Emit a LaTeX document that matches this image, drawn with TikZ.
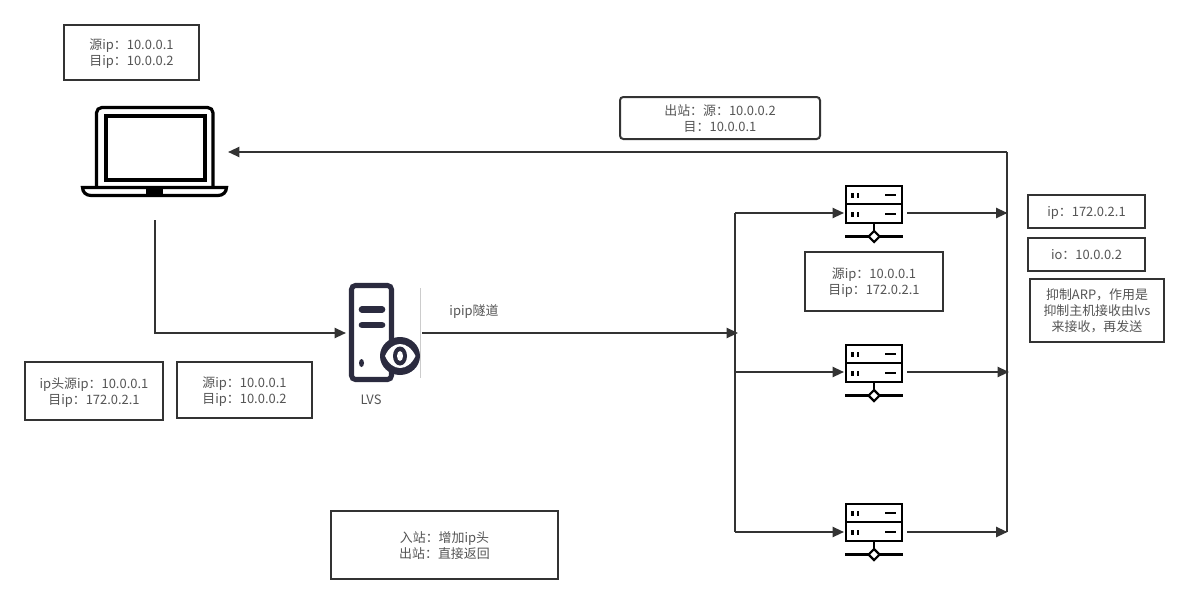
\documentclass[tikz,border=0pt]{standalone}
\usepackage{fontspec}
\setmainfont{Noto Sans CJK SC}
\usetikzlibrary{arrows.meta}
\definecolor{linec}{HTML}{333333}
\definecolor{textc}{HTML}{555555}
\definecolor{lvsc}{HTML}{2B2B3F}
\tikzset{
  x=0.75pt,y=-0.75pt,
  lab/.style={font=\fontsize{9.7pt}{12pt}\selectfont,text=textc,align=center},
  box/.style={draw=linec,line width=1.5pt,fill=white,inner sep=0pt,lab,text depth=0pt},
  conn/.style={draw=linec,line width=1.5pt},
  arr/.style={conn,-{Triangle[length=8.5pt,width=7.5pt]}},
  serverpic/.pic={
    \draw[black,line width=1.8pt,fill=white] (-28,-27) rectangle (28,10);
    \draw[black,line width=1.8pt] (-28,-9) -- (28,-9);
    \foreach \yy in {-18,1}{
      \fill[black] (-23,\yy-2.5) rectangle (-20.5,\yy+2.5);
      \fill[black] (-17.5,\yy-2.5) rectangle (-15,\yy+2.5);
      \fill[black] (11,\yy-1.2) rectangle (22,\yy+1.2);
    }
    \draw[black,line width=1.8pt] (0,10) -- (0,18);
    \draw[black,line width=1.8pt] (-29,23.5) -- (29,23.5);
    \draw[black,line width=1.6pt,fill=white] (0,18) -- (5.5,23.5) -- (0,29) -- (-5.5,23.5) -- cycle;
  }
}
\begin{document}
\begin{tikzpicture}
\useasboundingbox (0,0) rectangle (1188,603);
\fill[white] (0,0) rectangle (1188,603);

% anchors for connectors
\node[minimum width=109.5pt,minimum height=102pt,inner sep=0pt,outer sep=0pt] (laptop) at (155,152) {};
\node[minimum width=57pt,minimum height=74pt,inner sep=0pt,outer sep=0pt] (lvs) at (384,333) {};
\node[minimum width=47.25pt,minimum height=30pt,inner sep=0pt,outer sep=0pt] (s1) at (875.5,213) {};
\node[minimum width=47.25pt,minimum height=30pt,inner sep=0pt,outer sep=0pt] (s2) at (875.5,372) {};
\node[minimum width=47.25pt,minimum height=30pt,inner sep=0pt,outer sep=0pt] (s3) at (875.5,532) {};
\coordinate (inbusT) at (735,213);
\coordinate (inbusM) at (738,333);
\coordinate (inbus2) at (735,372);
\coordinate (inbusB) at (735,532);
\coordinate (outT) at (1006.5,152);
\coordinate (out1) at (1007.5,213);
\coordinate (out2) at (1009,372);
\coordinate (out3) at (1007.5,532);
\coordinate (outB) at (1006.5,532);

% laptop
\begin{scope}[black]
\draw[line width=2.4pt,rounded corners=4pt] (96.5,188) -- (96.5,107.5) -- (213,107.5) -- (213,188);
\draw[line width=3pt] (106,116) rectangle (204.5,179.5);
\draw[line width=2.4pt,fill=white] (82.5,187.5) -- (226.5,187.5) .. controls (226.5,192) and (223,195.5) .. (218,195.5) -- (91,195.5) .. controls (86,195.5) and (82.5,192) .. (82.5,187.5) -- cycle;
\fill (146,187) rectangle (163,196);
\end{scope}

% LVS
\draw[gray!40,line width=0.6pt] (420.5,288) -- (420.5,378);
\draw[lvsc,line width=3.8pt,rounded corners=3pt,fill=white] (351.5,285.5) rectangle (391.5,379.5);
\draw[lvsc,line width=5pt,line cap=round] (362,309.5) -- (382,309.5);
\draw[lvsc,line width=5pt,line cap=round] (362,325) -- (382,325);
\fill[lvsc] (361.5,363) ellipse (2.5 and 4);
\fill[lvsc] (400,356) ellipse (20 and 19);
\fill[white] (385,356) .. controls (392,340) and (408,340) .. (415.5,356) .. controls (408,372) and (392,372) .. (385,356) -- cycle;
\fill[lvsc] (400,356) ellipse (7 and 9.5);
\fill[white] (400,356) ellipse (3 and 5);

% servers
\pic at (874,213) {serverpic};
\pic at (874,372) {serverpic};
\pic at (874,531) {serverpic};

% connectors
\draw[arr] (laptop.south) |- (lvs.west);
\draw[arr] (lvs.east) -- (inbusM);
\draw[conn] (inbusT) -- (inbusB);
\draw[arr] (inbusT) -- (s1.west);
\draw[arr] (inbus2) -- (s2.west);
\draw[arr] (inbusB) -- (s3.west);
\draw[arr] (s1.east) -- (out1);
\draw[arr] (s2.east) -- (out2);
\draw[arr] (s3.east) -- (out3);
\draw[conn] (outB) -- (outT);
\draw[arr] (outT) -- (laptop.east);

% boxes
\node[box,minimum width=101.25pt,minimum height=41.25pt] (b1) at (131.5,52.5) {源ip：10.0.0.1\\目ip：10.0.0.2};
\node[box,rounded corners=2.5pt,minimum width=150pt,minimum height=31.5pt] (b2) at (720,118) {出站：源：10.0.0.2\\目：10.0.0.1};
\node[box,minimum width=87.75pt,minimum height=24.75pt] (b3) at (1086.5,211.5) {ip：172.0.2.1};
\node[box,minimum width=87.75pt,minimum height=24.75pt] (b4) at (1086.5,254.5) {io：10.0.0.2};
\node[box,minimum width=100.5pt,minimum height=47.25pt] (b5) at (1097,310.5) {抑制ARP，作用是\\抑制主机接收由lvs\\来接收，再发送};
\node[box,minimum width=103.5pt,minimum height=44.25pt] (b6) at (874,281.5) {源ip：10.0.0.1\\目ip：172.0.2.1};
\node[box,minimum width=103.5pt,minimum height=43.5pt] (b7) at (94,391) {ip头源ip：10.0.0.1\\目ip：172.0.2.1};
\node[box,minimum width=101.25pt,minimum height=42pt] (b8) at (244.5,390) {源ip：10.0.0.1\\目ip：10.0.0.2};
\node[box,minimum width=170.25pt,minimum height=51pt] (b9) at (444.5,545) {入站：增加ip头\\出站：直接返回};
\node[lab] (t1) at (474,312) {ipip隧道};
\node[lab] (t2) at (371,400) {LVS};
\end{tikzpicture}
\end{document}
